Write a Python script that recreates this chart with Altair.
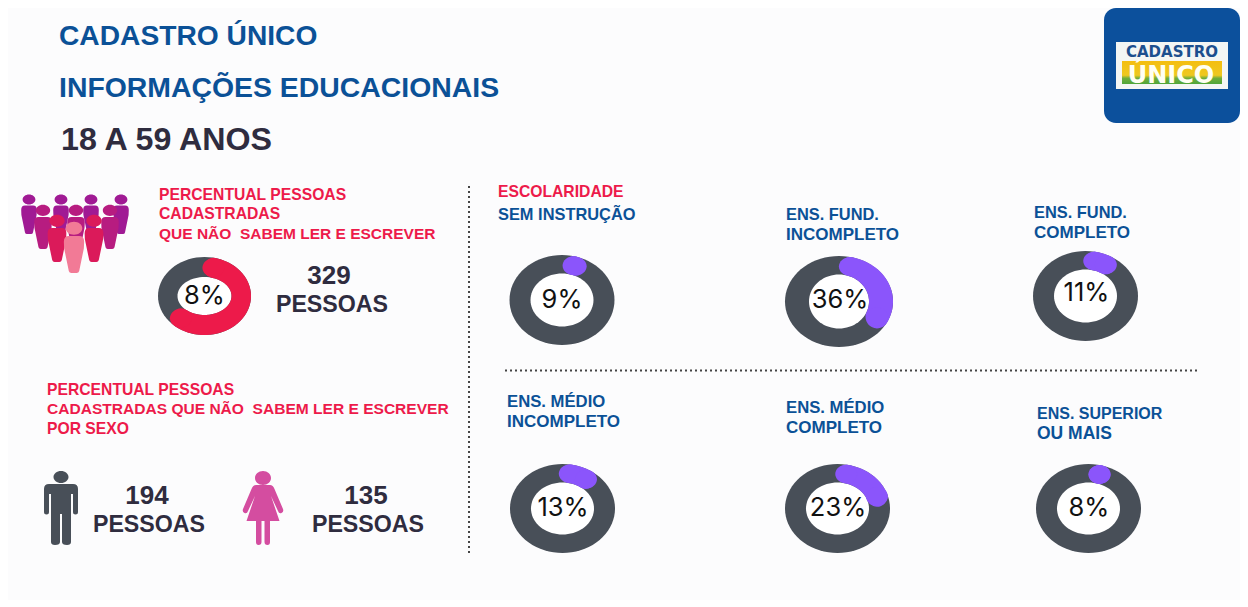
import numpy as np
import pandas as pd
import altair as alt

# ---- values ----
DONUT_LABELS = ["8%", "9%", "36%", "11%", "13%", "23%", "8%"]
ARC_SWEEP_DEG = [206, 3, 100, 17, 24, 58, 0]
ARC_COLORS = ["#ED1A4A", "#8B55FB", "#8B55FB", "#8B55FB", "#8B55FB", "#8B55FB", "#8B55FB"]
TOTAL = ["329"]
MEN = ["194"]
WOMEN = ["135"]
PEOPLE = ["PESSOAS"]

# ---- layout ----
CX = [204.5, 562, 839, 1085.5, 562.5, 837.5, 1088.5]
CY = [295, 299, 300.5, 295, 507.5, 507.5, 507.5]
RX = [46.5, 52.5, 54, 52.5, 52.5, 52.5, 52.5]
RY = [39, 45, 45.5, 45, 44.5, 44.5, 44.5]
TH = [19.5, 21, 24, 21, 21, 21, 21]
TV = [20, 18.5, 18.5, 18.5, 18.5, 18.5, 18.5]
START_DEG = [14, 16, 15, 12, 10, 12, 15]
LABEL_X = [204.5, 562, 840, 1086.5, 563, 838, 1089]
LABEL_Y = [295, 299, 299, 292, 507, 507, 507]

FONT = "Liberation Sans"
BLUE = "#0B5197"
RED = "#ED1A4A"
DARK = "#2F2C3F"
GREY = "#484F58"

X = alt.X("x:Q", scale=alt.Scale(domain=[8, 1240], nice=False, zero=False), axis=None)
Y = alt.Y("y:Q", scale=alt.Scale(domain=[8, 599], reverse=True, nice=False, zero=False), axis=None)


def ring_points(i, start_deg, sweep_deg, n):
    t = np.radians(np.linspace(start_deg, start_deg + sweep_deg, n))
    rx = RX[i] - TH[i] / 2
    ry = RY[i] - TV[i] / 2
    w = np.sqrt((TV[i] * np.cos(t)) ** 2 + (TH[i] * np.sin(t)) ** 2)
    return pd.DataFrame({"x": CX[i] + rx * np.sin(t), "y": CY[i] - ry * np.cos(t), "w": w, "i": np.arange(n), "d": i})


arcs = pd.concat([
    ring_points(i, START_DEG[i], max(ARC_SWEEP_DEG[i], 0.5), max(2, ARC_SWEEP_DEG[i]))
    for i in range(len(CX))
])
arcs["c"] = arcs["d"].map(lambda k: ARC_COLORS[k])
caps = arcs.sort_values(["d", "i"]).groupby("d").nth([0, -1])

arc_layer = alt.Chart(arcs).mark_trail().encode(
    x=X, y=Y, order="i:Q", detail="d:N", size=alt.Size("w:Q", scale=None),
    color=alt.Color("c:N", scale=None),
)
ELLIPSE_CAP = "M-11,0 A11,9.3 0 1 1 11,0 A11,9.3 0 1 1 -11,0 Z"
cap_layer = alt.Chart(caps).mark_point(shape=ELLIPSE_CAP, size=4, filled=True, opacity=1, strokeWidth=0).encode(
    x=X, y=Y, color=alt.Color("c:N", scale=None)
)


def ellipse_path(rx, ry, n=72):
    t = np.linspace(0, 2 * np.pi, n, endpoint=False)
    pts = [f"{rx * np.cos(a):.2f},{ry * np.sin(a):.2f}" for a in t]
    return "M" + " L".join(pts) + " Z"


def disc(i, rx, ry, color):
    return alt.Chart(pd.DataFrame({"x": [CX[i]], "y": [CY[i]]})).mark_point(
        shape=ellipse_path(rx, ry), size=4, filled=True, opacity=1, strokeWidth=0, color=color
    ).encode(x=X, y=Y)


discs = []
for i in range(len(CX)):
    discs.append(disc(i, RX[i], RY[i], GREY))
    discs.append(disc(i, RX[i] - TH[i], RY[i] - TV[i], "#FFFFFF"))


def label_layer(rows, weight="bold", align="left", font=FONT):
    df = pd.DataFrame(rows, columns=["x", "y", "t", "c", "s"])
    return alt.Chart(df).mark_text(font=font, fontWeight=weight, align=align, baseline="middle").encode(
        x=X, y=Y, text="t:N", color=alt.Color("c:N", scale=None), size=alt.Size("s:Q", scale=None)
    )


left_texts = [
    (59, 36, "CADASTRO ÚNICO", BLUE, 28.2),
    (59, 86.5, "INFORMAÇÕES EDUCACIONAIS", BLUE, 28.4),
    (61, 138.5, "18 A 59 ANOS", DARK, 32.2),
    (159, 193.5, "PERCENTUAL PESSOAS", RED, 15.7),
    (159, 212.5, "CADASTRADAS", RED, 15.7),
    (159, 232.5, "QUE NÃO\u00a0 SABEM LER E ESCREVER", RED, 15.5),
    (47, 388.5, "PERCENTUAL PESSOAS", RED, 15.7),
    (47, 407.5, "CADASTRADAS QUE NÃO\u00a0 SABEM LER E ESCREVER", RED, 15.55),
    (47, 427.5, "POR SEXO", RED, 15.7),
    (498, 190.5, "ESCOLARIDADE", RED, 15.7),
    (498, 213.5, "SEM INSTRUÇÃO", BLUE, 16.4),
    (786, 213.5, "ENS. FUND.", BLUE, 16.4),
    (786, 233.5, "INCOMPLETO", BLUE, 17),
    (1034, 211.5, "ENS. FUND.", BLUE, 16.4),
    (1034, 231.5, "COMPLETO", BLUE, 17),
    (507, 400.5, "ENS. MÉDIO", BLUE, 16.7),
    (507, 420.5, "INCOMPLETO", BLUE, 17),
    (786, 406.5, "ENS. MÉDIO", BLUE, 16.7),
    (786, 426.5, "COMPLETO", BLUE, 17),
    (1037, 412.5, "ENS. SUPERIOR", BLUE, 16),
    (1037, 432.5, "OU MAIS", BLUE, 17.5),
]
center_texts = [
    (329, 275, TOTAL[0], DARK, 26),
    (332, 304, PEOPLE[0], DARK, 23.2),
    (147, 495, MEN[0], DARK, 26),
    (149, 524, PEOPLE[0], DARK, 23.2),
    (366, 495, WOMEN[0], DARK, 26),
    (368, 524, PEOPLE[0], DARK, 23.2),
]
logo_texts = [
    (1172, 50.5, "CADASTRO", "#1C4F8E", 15),
    (1171, 74.5, "ÚNICO", "#FFFFF4", 24),
]
pct_texts = [(LABEL_X[i], LABEL_Y[i], DONUT_LABELS[i], "#111111", 25.5) for i in range(len(CX))]

# dotted separators
vline = alt.Chart(pd.DataFrame({"x": [469], "y": [185], "y2": [552]})).mark_rule(
    color="#444444", strokeDash=[2, 3], strokeWidth=2
).encode(x=X, y=Y, y2="y2:Q")
hline = alt.Chart(pd.DataFrame({"x": [505], "x2": [1198], "y": [369.5]})).mark_rule(
    color="#444444", strokeDash=[2, 3], strokeWidth=2
).encode(x=X, x2="x2:Q", y=Y)

# people icons
PERSON = ("M-0.32,-0.72 A0.32,0.25 0 1 1 0.32,-0.72 A0.32,0.25 0 1 1 -0.32,-0.72 Z "
          "M-0.2,-0.42 L0.2,-0.42 Q0.39,-0.42 0.39,-0.2 L0.38,0.05 L0.2,0.92 Q0.18,1 0.1,1 "
          "L-0.1,1 Q-0.18,1 -0.2,0.92 L-0.38,0.05 L-0.39,-0.2 Q-0.39,-0.42 -0.2,-0.42 Z")
crowd = pd.DataFrame({
    "x": [29, 61, 91, 121, 43, 76, 110, 57, 94, 74],
    "y": [213, 213, 213, 213, 225.5, 225.5, 225.5, 237, 237, 246],
    "size": [1600] * 4 + [2025] * 3 + [2304] * 2 + [2704],
    "c": ["#A01A94"] * 4 + ["#B71C80"] * 3 + ["#DB1A5A"] * 2 + ["#F27A96"],
})
crowd_layer = alt.Chart(crowd).mark_point(shape=PERSON, filled=True, opacity=1, strokeWidth=0).encode(
    x=X, y=Y, size=alt.Size("size:Q", scale=None), color=alt.Color("c:N", scale=None)
)
MAN = ("M-7.5,-31 A7.5,6 0 1 1 7.5,-31 A7.5,6 0 1 1 -7.5,-31 Z "
       "M-12,-24 L12,-24 Q17,-24 17,-19 L17,4 Q17,6.5 14.5,6.5 Q12,6.5 12,4 L12,-14 L10,-14 L10,34 Q10,37 6,37 "
       "Q1,37 1,34 L1,6 L-1,6 L-1,34 Q-1,37 -6,37 Q-10,37 -10,34 L-10,-14 L-12,-14 L-12,4 Q-12,6.5 -14.5,6.5 "
       "Q-17,6.5 -17,4 L-17,-19 Q-17,-24 -12,-24 Z")
WOMAN = ("M-8,-30 A8,7 0 1 1 8,-30 A8,7 0 1 1 -8,-30 Z "
         "M-7,-23 L7,-23 Q10,-23 11.5,-19 L20,1 Q21,4 18.5,5 Q16,6 15,3 L8,-12 L16.5,13 L7,13 L7,34 Q7,37 4.5,37 "
         "Q1.5,37 1.5,34 L1.5,13 L-1.5,13 L-1.5,34 Q-1.5,37 -4.5,37 Q-7,37 -7,34 L-7,13 L-16.5,13 L-8,-12 L-15,3 "
         "Q-16,6 -18.5,5 Q-21,4 -20,1 L-11.5,-19 Q-10,-23 -7,-23 Z")
man_layer = alt.Chart(pd.DataFrame({"x": [61], "y": [507]})).mark_point(
    shape=MAN, size=4, filled=True, opacity=1, strokeWidth=0, color=GREY
).encode(x=X, y=Y)
woman_layer = alt.Chart(pd.DataFrame({"x": [263], "y": [507]})).mark_point(
    shape=WOMAN, size=4, filled=True, opacity=1, strokeWidth=0, color="#D44DA0"
).encode(x=X, y=Y)

# logo
logo_blue = alt.Chart(pd.DataFrame({"x": [1104], "x2": [1240], "y": [7], "y2": [122]})).mark_rect(
    color="#0C509C", cornerRadius=12
).encode(x=X, x2="x2:Q", y=Y, y2="y2:Q")
logo_white = alt.Chart(pd.DataFrame({"x": [1116], "x2": [1228], "y": [41], "y2": [88]})).mark_rect(
    color="#F4F6F4"
).encode(x=X, x2="x2:Q", y=Y, y2="y2:Q")
logo_band = alt.Chart(pd.DataFrame({"x": [1122], "x2": [1222], "y": [60], "y2": [83]})).mark_rect(
    fill={"gradient": "linear", "x1": 0, "y1": 0, "x2": 0, "y2": 1,
          "stops": [{"offset": 0, "color": "#F4BE10"}, {"offset": 0.62, "color": "#EEC820"},
                    {"offset": 0.75, "color": "#6FAE3A"}, {"offset": 1, "color": "#4FA53A"}]}
).encode(x=X, x2="x2:Q", y=Y, y2="y2:Q")

chart = alt.layer(
    logo_blue, logo_white, logo_band,
    vline, hline,
    crowd_layer, man_layer, woman_layer,
    *discs, arc_layer, cap_layer,
    label_layer(left_texts),
    label_layer(center_texts, align="center"),
    label_layer(logo_texts, align="center", font="DejaVu Sans"),
    label_layer(pct_texts, weight="normal", align="center", font="Inter"),
).properties(
    width=1232, height=591, padding=0, background="#FCFCFD"
).configure_view(stroke=None, fill="#FCFCFD")

chart.save("out.html", embed_options={"renderer": "svg", "actions": False})
